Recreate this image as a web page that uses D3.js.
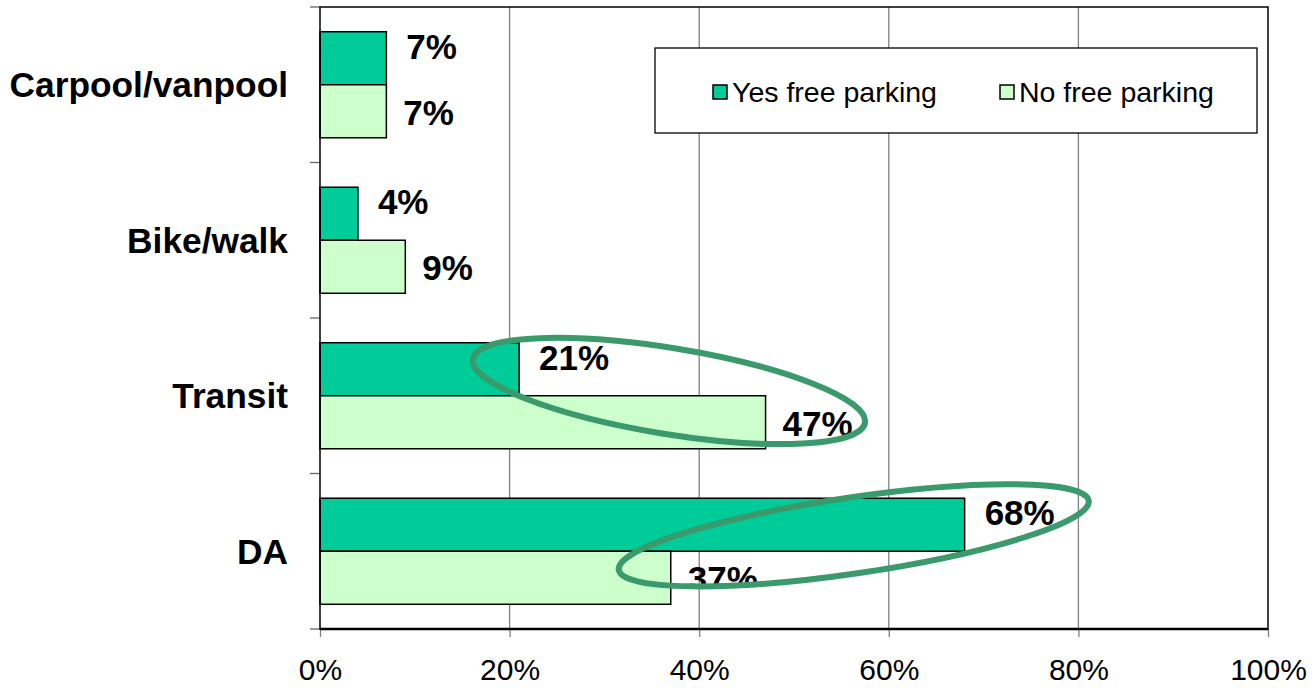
<!DOCTYPE html>
<html>
<head>
<meta charset="utf-8">
<script src="https://cdn.jsdelivr.net/npm/d3@7"></script>
<style>
  body { margin: 0; background: #fff; }
  svg { display: block; font-family: Arial, "Liberation Sans", sans-serif; }
</style>
</head>
<body>
<svg id="chart" width="1312" height="688"></svg>
<script>
// chart data
const categories = ["Carpool/vanpool", "Bike/walk", "Transit", "DA"];
const seriesNames = ["Yes free parking", "No free parking"];
const yesValues = [7, 4, 21, 68];
const noValues = [7, 9, 47, 37];
const xTicks = [0, 20, 40, 60, 80, 100];

// circled pairs: category, ends in % of x and in fraction of the band
const circled = [
  { cat: "Transit", from: 15.8, to: 57.8, fromY: 0.15, toY: 0.76, half: 43 },
  { cat: "DA", from: 31.2, to: 81.4, fromY: 0.68, toY: 0.02, half: 38 }
];

const svg = d3.select("#chart");
const plotL = 320, plotR = 1268, plotT = 7, plotB = 629;
const colors = { "Yes free parking": "#00cc99", "No free parking": "#ccffcc" };

const x = d3.scaleLinear().domain([0, 100]).range([plotL, plotR]);
const y0 = d3.scaleBand().domain(categories).range([plotT, plotB])
  .paddingInner(0.318).paddingOuter(0.159);
const y1 = d3.scaleBand().domain(seriesNames).range([0, y0.bandwidth()]);

const rows = categories.map((c, i) => ({ cat: c, vals: [
  { s: seriesNames[0], v: yesValues[i] },
  { s: seriesNames[1], v: noValues[i] }
]}));

// gridlines
svg.append("g").selectAll("line")
  .data(xTicks.slice(1, -1))
  .enter().append("line")
  .attr("x1", d => x(d)).attr("x2", d => x(d))
  .attr("y1", plotT).attr("y2", plotB)
  .attr("stroke", "#808080").attr("stroke-width", 1.3);

// bottom ticks + labels
const xAxis = d3.axisBottom(x).tickValues(xTicks).tickFormat(d => d + "%")
  .tickSize(8).tickPadding(22);
const gx = svg.append("g").attr("transform", `translate(0,${plotB})`).call(xAxis);
gx.select(".domain").remove();
gx.selectAll(".tick line").attr("stroke", "#808080").attr("stroke-width", 1.3);
gx.selectAll(".tick text").attr("font-size", 30).attr("fill", "#000")
  .attr("font-family", "Arial, 'Liberation Sans', sans-serif");

// left category ticks (band boundaries)
const step = y0.step();
const bounds = d3.range(categories.length + 1).map(i => plotT + i * step);
svg.append("g").selectAll("line")
  .data(bounds)
  .enter().append("line")
  .attr("x1", plotL - 10).attr("x2", plotL)
  .attr("y1", d => d).attr("y2", d => d)
  .attr("stroke", "#666").attr("stroke-width", 1.3);

// category labels
svg.append("g").selectAll("text")
  .data(categories)
  .enter().append("text")
  .attr("x", 288)
  .attr("y", d => y0(d) + y0.bandwidth() / 2)
  .attr("text-anchor", "end")
  .attr("dominant-baseline", "central")
  .attr("font-size", 35.3).attr("font-weight", "bold")
  .text(d => d);

// bars
const groups = svg.append("g").selectAll("g")
  .data(rows)
  .enter().append("g")
  .attr("transform", d => `translate(0,${y0(d.cat)})`);

groups.selectAll("rect")
  .data(d => d.vals)
  .enter().append("rect")
  .attr("x", x(0))
  .attr("y", d => y1(d.s))
  .attr("width", d => x(d.v) - x(0))
  .attr("height", y1.bandwidth())
  .attr("fill", d => colors[d.s])
  .attr("stroke", "#000").attr("stroke-width", 1.5);

// plot border
svg.append("rect")
  .attr("x", plotL).attr("y", plotT)
  .attr("width", plotR - plotL).attr("height", plotB - plotT)
  .attr("fill", "none").attr("stroke", "#000").attr("stroke-width", 1.5);
svg.append("line").attr("x1", plotL).attr("x2", plotR)
  .attr("y1", plotB).attr("y2", plotB)
  .attr("stroke", "#000").attr("stroke-width", 2.5);

// ellipse geometry from data scales
const ellipses = circled.map(e => {
  const band = y0(e.cat);
  const p1 = [x(e.from), band + e.fromY * y0.bandwidth()];
  const p2 = [x(e.to), band + e.toY * y0.bandwidth()];
  const cx = (p1[0] + p2[0]) / 2, cy = (p1[1] + p2[1]) / 2;
  const dx = p2[0] - p1[0], dy = p2[1] - p1[1];
  return {
    cat: e.cat, cx, cy,
    rx: Math.sqrt(dx * dx + dy * dy) / 2 - 3,
    ry: e.half,
    ang: Math.atan2(dy, dx) * 180 / Math.PI
  };
});

const defs = svg.append("defs");
ellipses.forEach((e, i) => {
  defs.append("clipPath").attr("id", "clip" + i)
    .append("ellipse")
    .attr("cx", 0).attr("cy", 0)
    .attr("rx", e.rx + 3).attr("ry", e.ry + 3)
    .attr("transform", `translate(${e.cx},${e.cy}) rotate(${e.ang})`);
});

// value labels (DA labels are cut by its ellipse, as in the original)
const labels = svg.append("g");
rows.forEach(row => {
  const idx = row.cat === "DA" ? ellipses.findIndex(e => e.cat === "DA") : -1;
  const g = labels.append("g")
    .attr("clip-path", idx >= 0 ? `url(#clip${idx})` : null);
  g.selectAll("text")
    .data(row.vals)
    .enter().append("text")
    .attr("x", d => x(d.v) + (d.s === seriesNames[0] ? 20 : 17))
    .attr("y", d => y0(row.cat) + y1(d.s) + y1.bandwidth() / 2 + (d.s === seriesNames[0] ? -12 : 1))
    .attr("dominant-baseline", "central")
    .attr("font-size", 35).attr("font-weight", "bold")
    .text(d => d.v + "%");
});

// ellipses
svg.append("g").selectAll("ellipse")
  .data(ellipses)
  .enter().append("ellipse")
  .attr("cx", 0).attr("cy", 0)
  .attr("rx", d => d.rx).attr("ry", d => d.ry)
  .attr("transform", d => `translate(${d.cx},${d.cy}) rotate(${d.ang})`)
  .attr("fill", "none")
  .attr("stroke", "#3a9a6b").attr("stroke-width", 6);

// legend
const legend = svg.append("g");
legend.append("rect")
  .attr("x", 655).attr("y", 48).attr("width", 602).attr("height", 85)
  .attr("fill", "#fff").attr("stroke", "#000").attr("stroke-width", 1.3);
const lx = [713, 1000];
const items = legend.selectAll("g.item")
  .data(seriesNames)
  .enter().append("g").attr("class", "item")
  .attr("transform", (d, i) => `translate(${lx[i]},92)`);
items.append("rect")
  .attr("x", 0).attr("y", -7).attr("width", 14).attr("height", 14)
  .attr("fill", d => colors[d]).attr("stroke", "#000").attr("stroke-width", 1.5);
items.append("text")
  .attr("x", 19).attr("y", 0)
  .attr("dominant-baseline", "central")
  .attr("font-size", 28.5)
  .text(d => d);
</script>
</body>
</html>
